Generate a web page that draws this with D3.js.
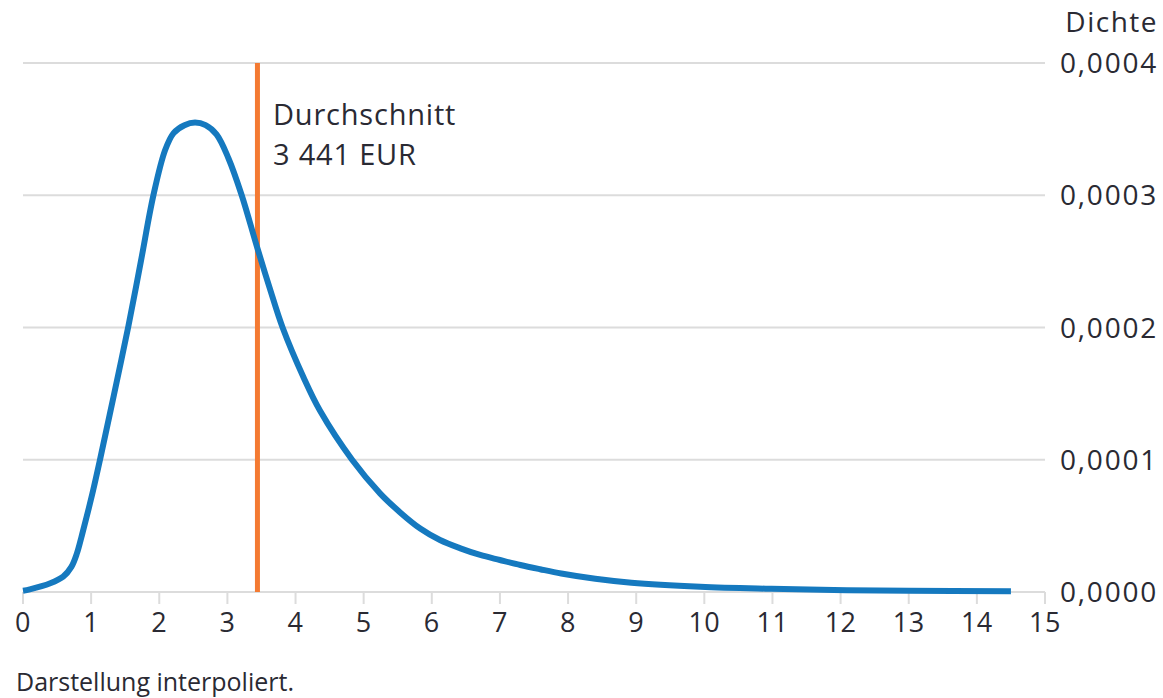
<!DOCTYPE html>
<html>
<head>
<meta charset="utf-8">
<script src="https://cdn.jsdelivr.net/npm/d3@7"></script>
<style>
  html, body { margin: 0; padding: 0; background: #fff; }
  svg { display: block; }
  text { font-family: "Open Sans", sans-serif; fill: #2a2a33; }
</style>
</head>
<body>
<svg id="chart" width="1163" height="698"></svg>
<script>
// Income in thousand EUR
const income = [0, 0.1, 0.4, 0.59, 0.71, 0.79, 0.86, 0.935, 1.03, 1.13, 1.33, 1.547, 1.73, 1.914, 2.085, 2.21, 2.37, 2.525, 2.68, 2.84, 3.015, 3.21, 3.44, 3.62, 3.81, 4.12, 4.36, 4.83, 5.24, 5.54, 5.83, 6.12, 6.42, 6.71, 7.0, 7.3, 7.59, 7.9, 8.4, 8.93, 9.94, 10.9, 11.9, 13.0, 14.5];
// Density
const density = [0.000001, 0.000002, 0.0000066, 0.0000116, 0.000019, 0.000029, 0.000042, 0.000057, 0.000077, 0.0001, 0.000148, 0.000201, 0.00025, 0.0003, 0.000334, 0.000347, 0.000353, 0.000355, 0.000353, 0.000346, 0.000328, 0.0003, 0.00026, 0.00023, 0.0002, 0.000162, 0.000137, 0.0001, 0.0000746, 0.00006, 0.000048, 0.0000393, 0.000033, 0.000028, 0.0000242, 0.0000204, 0.0000172, 0.000014, 0.00001, 0.000007, 0.000004, 0.0000025, 0.0000015, 0.0000009, 0.0000005];
const xTicks = [0,1,2,3,4,5,6,7,8,9,10,11,12,13,14,15];
const yTicks = [0, 0.0001, 0.0002, 0.0003, 0.0004];
const yTickLabels = ["0,0000", "0,0001", "0,0002", "0,0003", "0,0004"];
const meanValue = 3.441;
const meanLabel = ["Durchschnitt", "3 441 EUR"];
const yAxisTitle = "Dichte";
const footnote = "Darstellung interpoliert.";

const svg = d3.select("#chart");
const x = d3.scaleLinear().domain([0, 15]).range([23, 1045]);
const y = d3.scaleLinear().domain([0, 0.0004]).range([592, 63]);
const grid = "#dcdcdc";

// gridlines
svg.append("g").selectAll("line").data(yTicks).join("line")
  .attr("x1", x(0)).attr("x2", x(15))
  .attr("y1", d => y(d)).attr("y2", d => y(d))
  .attr("stroke", grid).attr("stroke-width", 2);

// x ticks
svg.append("g").selectAll("line").data(xTicks).join("line")
  .attr("x1", d => x(d)).attr("x2", d => x(d))
  .attr("y1", y(0)).attr("y2", y(0) + 12)
  .attr("stroke", grid).attr("stroke-width", 2);

svg.append("g").selectAll("text").data(xTicks).join("text")
  .attr("x", d => x(d)).attr("y", 632)
  .attr("text-anchor", "middle")
  .style("font-size", "27px")
  .style("letter-spacing", "0.5px")
  .text(d => d);

// y labels on right
svg.append("g").selectAll("text").data(yTicks).join("text")
  .attr("x", 1060).attr("y", d => y(d) + 10)
  .style("font-size", "28px")
  .style("letter-spacing", "1.8px")
  .text((d, i) => yTickLabels[i]);

svg.append("text").attr("x", 1158).attr("y", 32)
  .attr("text-anchor", "end").style("font-size", "28px")
  .style("letter-spacing", "1.5px").text(yAxisTitle);

// mean line
svg.append("line")
  .attr("x1", x(meanValue)).attr("x2", x(meanValue))
  .attr("y1", y(0.0004)).attr("y2", y(0))
  .attr("stroke", "#f47a32").attr("stroke-width", 5);

svg.append("g").selectAll("text").data(meanLabel).join("text")
  .attr("x", 273).attr("y", (d, i) => 125 + i * 40)
  .style("font-size", "29px")
  .style("letter-spacing", "0.8px")
  .text(d => d);

// density curve
const pts = income.map((v, i) => [v, density[i]]);
const line = d3.line().x(d => x(d[0])).y(d => y(d[1])).curve(d3.curveCatmullRom.alpha(0.5));
svg.append("path").datum(pts)
  .attr("d", line)
  .attr("fill", "none")
  .attr("stroke", "#1579bf")
  .attr("stroke-width", 6)
  .attr("stroke-linecap", "butt")
  .attr("stroke-linejoin", "round");

svg.append("text").attr("x", 16).attr("y", 691)
  .style("font-size", "25px").text(footnote);
</script>
</body>
</html>
